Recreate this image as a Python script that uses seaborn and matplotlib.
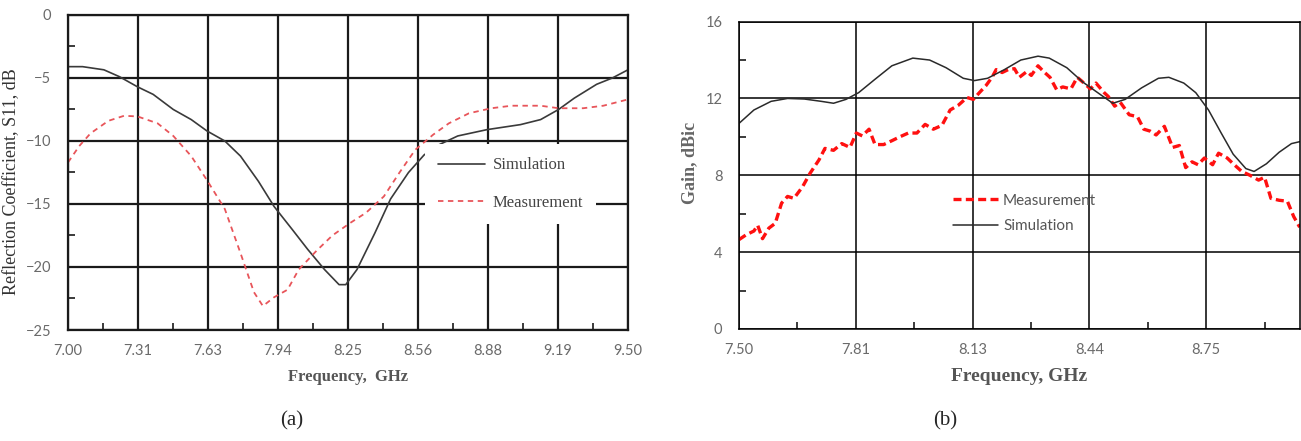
import numpy as np
import matplotlib
matplotlib.use("Agg")
import matplotlib.pyplot as plt
from matplotlib.ticker import FixedLocator
import seaborn as sns

# (a) reflection coefficient
s11_sim_freq = [7.00, 7.065, 7.16, 7.23, 7.31, 7.38, 7.47, 7.55, 7.62, 7.70, 7.77, 7.85,
                7.92, 8.00, 8.07, 8.145, 8.21, 8.24, 8.29, 8.37, 8.44, 8.52, 8.59, 8.65,
                8.74, 8.87, 9.02, 9.11, 9.19, 9.26, 9.36, 9.43, 9.50]
s11_sim = [-4.1, -4.1, -4.35, -4.9, -5.7, -6.3, -7.5, -8.3, -9.2, -10.0, -11.2, -13.2,
           -15.2, -17.0, -18.6, -20.2, -21.4, -21.4, -20.2, -17.3, -14.6, -12.5, -11.1, -10.35,
           -9.6, -9.1, -8.7, -8.3, -7.5, -6.6, -5.5, -5.0, -4.35]

s11_meas_freq = [7.00, 7.05, 7.10, 7.18, 7.25, 7.31, 7.40, 7.47, 7.55, 7.62, 7.70, 7.77,
                 7.83, 7.87, 7.92, 7.98, 8.03, 8.11, 8.18, 8.26, 8.33, 8.41, 8.48, 8.55,
                 8.63, 8.70, 8.79, 8.89, 8.98, 9.11, 9.19, 9.30, 9.39, 9.50]
s11_meas = [-11.7, -10.4, -9.4, -8.4, -8.0, -8.05, -8.6, -9.6, -11.2, -13.1, -15.4, -18.9,
            -22.0, -23.1, -22.4, -21.8, -20.2, -18.7, -17.5, -16.5, -15.7, -14.4, -12.5, -10.7,
            -9.5, -8.6, -7.8, -7.4, -7.2, -7.2, -7.4, -7.4, -7.2, -6.7]
s11_ticklabels = ["7.00", "7.31", "7.63", "7.94", "8.25", "8.56", "8.88", "9.19", "9.50"]

# (b) gain
gain_sim_freq = [7.50, 7.54, 7.586, 7.63, 7.675, 7.72, 7.753, 7.786, 7.82, 7.864, 7.909, 7.965,
                 8.01, 8.054, 8.10, 8.13, 8.165, 8.21, 8.254, 8.30, 8.33, 8.377, 8.42, 8.467,
                 8.50, 8.533, 8.577, 8.622, 8.65, 8.69, 8.722, 8.756, 8.79, 8.822, 8.856, 8.878,
                 8.911, 8.945, 8.978, 9.00]
gain_sim = [10.7, 11.4, 11.85, 12.0, 11.97, 11.85, 11.75, 11.95, 12.3, 13.0, 13.7, 14.1,
            14.0, 13.6, 13.05, 12.93, 13.05, 13.5, 14.0, 14.2, 14.1, 13.6, 12.85, 12.2,
            11.75, 11.95, 12.55, 13.05, 13.1, 12.8, 12.3, 11.4, 10.2, 9.1, 8.35, 8.2,
            8.6, 9.2, 9.65, 9.75]

gain_meas_freq = [7.50, 7.519, 7.54, 7.55, 7.563, 7.58, 7.597, 7.614, 7.63, 7.647, 7.67, 7.69,
                  7.714, 7.73, 7.753, 7.775, 7.797, 7.814, 7.83, 7.848, 7.864, 7.887, 7.909, 7.93,
                  7.953, 7.976, 7.998, 8.02, 8.043, 8.065, 8.087, 8.11, 8.127, 8.143, 8.16, 8.177,
                  8.188, 8.204, 8.22, 8.237, 8.25, 8.27, 8.282, 8.30, 8.315, 8.332, 8.35, 8.366,
                  8.388, 8.405, 8.42, 8.44, 8.455, 8.477, 8.488, 8.505, 8.52, 8.544, 8.566, 8.583,
                  8.60, 8.616, 8.638, 8.66, 8.678, 8.695, 8.712, 8.728, 8.745, 8.767, 8.783, 8.806,
                  8.822, 8.845, 8.867, 8.89, 8.906, 8.923, 8.945, 8.967, 8.984, 9.00]
gain_meas = [4.65, 4.9, 5.1, 5.4, 4.7, 5.25, 5.5, 6.55, 6.9, 6.8, 7.4, 8.1,
             8.8, 9.4, 9.3, 9.65, 9.45, 10.2, 10.05, 10.4, 9.6, 9.6, 9.8, 10.0,
             10.2, 10.2, 10.65, 10.4, 10.6, 11.4, 11.65, 12.05, 11.95, 12.3, 12.65, 13.1,
             13.5, 13.35, 13.5, 13.55, 13.1, 13.4, 13.2, 13.7, 13.4, 13.1, 12.45, 12.6,
             12.5, 13.1, 12.85, 12.5, 12.8, 12.3, 12.1, 11.6, 11.8, 11.15, 11.05, 10.4,
             10.3, 10.1, 10.55, 9.45, 9.55, 8.4, 8.7, 8.55, 8.9, 8.55, 9.15, 8.9,
             8.6, 8.2, 8.0, 7.75, 7.9, 6.8, 6.7, 6.65, 5.85, 5.3]
gain_ticklabels = ["7.50", "7.81", "8.13", "8.44", "8.75"]

sns.set_style("white")
plt.rcParams["font.family"] = ["Lato", "DejaVu Sans"]
serif = ["Liberation Serif", "DejaVu Serif"]
tick_col = "#6a6a6a"

fig = plt.figure(figsize=(13.01, 4.41), dpi=100)
ax1 = fig.add_axes([0.0523, 0.2517, 0.4304, 0.7143])
ax2 = fig.add_axes([0.568, 0.254, 0.431, 0.697])

# ---- (a)
sns.lineplot(x=s11_sim_freq, y=s11_sim, ax=ax1, color="#3a3a3a", lw=1.2, label="Simulation")
sns.lineplot(x=s11_meas_freq, y=s11_meas, ax=ax1, color="#e8555a", lw=1.3,
             linestyle=(0, (3, 2.5)), label="Measurement")
ax1.set_xlim(7.0, 9.5)
ax1.set_ylim(-25, 0)
step1 = 2.5 / 8
ax1.set_xticks(7.0 + step1 * np.arange(9))
ax1.set_xticklabels(s11_ticklabels)
ax1.set_yticks([0, -5, -10, -15, -20, -25])
ax1.xaxis.set_minor_locator(FixedLocator(7.0 + step1 * (np.arange(8) + 0.5)))
ax1.yaxis.set_minor_locator(FixedLocator([-2.5, -7.5, -12.5, -17.5, -22.5]))
ax1.grid(which="major", color="#1a1a1a", lw=1.6)
ax1.set_ylabel("Reflection Coefficient, S11, dB", family=serif, fontsize=13, color="#333333")
ax1.yaxis.set_label_coords(-0.086, 0.47)
ax1.set_xlabel("Frequency,  GHz", family=serif, fontsize=12, fontweight="bold", color="#555555", labelpad=8)
leg1 = ax1.legend(loc="upper left", bbox_to_anchor=(0.6375, 0.59), borderaxespad=0, frameon=True,
                  facecolor="white", edgecolor="none", framealpha=1, borderpad=0.8,
                  handlelength=2.8, handletextpad=0.45, labelspacing=1.3,
                  prop={"family": serif, "size": 12})
for t in leg1.get_texts():
    t.set_color("#444444")
for s in ax1.spines.values():
    s.set_color("#1a1a1a")
    s.set_linewidth(1.6)

# ---- (b)
sns.lineplot(x=gain_meas_freq, y=gain_meas, ax=ax2, color="#ff1010", lw=2.4,
             linestyle=(0, (2.4, 1.3)), label="Measurement")
sns.lineplot(x=gain_sim_freq, y=gain_sim, ax=ax2, color="#2a2a2a", lw=1.1, label="Simulation")
ax2.set_xlim(7.5, 9.0)
ax2.set_ylim(0, 16)
step2 = 0.3125
ax2.set_xticks(7.5 + step2 * np.arange(5))
ax2.set_xticklabels(gain_ticklabels)
ax2.set_yticks([0, 4, 8, 12, 16])
ax2.xaxis.set_minor_locator(FixedLocator(7.5 + step2 * (np.arange(5) + 0.5)))
ax2.yaxis.set_minor_locator(FixedLocator([2, 6, 10, 14]))
ax2.grid(which="major", color="black", lw=1.1)
ax2.set_ylabel("Gain, dBic", family=serif, fontsize=13, fontweight="bold", color="#666666")
ax2.yaxis.set_label_coords(-0.072, 0.54)
ax2.set_xlabel("Frequency, GHz", family=serif, fontsize=14, fontweight="bold", color="#555555", labelpad=8)
leg2 = ax2.legend(loc="upper left", bbox_to_anchor=(0.381, 0.44), borderaxespad=0, frameon=False,
                  borderpad=0, handlelength=3.0, handletextpad=0.3, labelspacing=0.75,
                  fontsize=11)
for t in leg2.get_texts():
    t.set_color("#555555")
for s in ax2.spines.values():
    s.set_color("black")
    s.set_linewidth(1.1)

for ax in (ax1, ax2):
    ax.tick_params(which="major", length=0, labelsize=10.5, labelcolor=tick_col)
    ax.tick_params(axis="x", which="major", pad=10)
    ax.tick_params(axis="y", which="major", pad=12)
    ax.tick_params(which="minor", direction="in", length=5, width=1.2, color="#1a1a1a",
                   left=True, bottom=True)

fig.text(0.2245, 0.035, "(a)", family=serif, fontsize=15, ha="center")
fig.text(0.7265, 0.035, "(b)", family=serif, fontsize=15, ha="center")

fig.savefig("out.png", dpi=100)
